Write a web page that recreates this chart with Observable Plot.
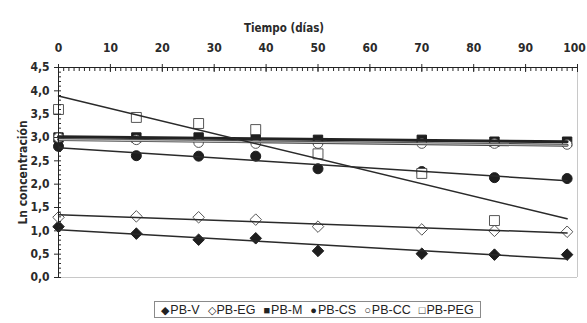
<!DOCTYPE html>
<html><head><meta charset="utf-8">
<script src="https://cdn.jsdelivr.net/npm/d3@7"></script>
<script src="https://cdn.jsdelivr.net/npm/@observablehq/plot@0.6"></script>
<style>
body{margin:0;background:#fff;width:587px;height:323px;overflow:hidden;position:relative}
#legend{position:absolute;left:154px;top:301px;width:327px;height:17px;border:1px solid #8a8a8a;box-sizing:border-box;
font-family:"Liberation Sans",Arial,sans-serif;font-size:12.5px;color:#222;display:flex;align-items:center;justify-content:center;gap:8px;white-space:nowrap}
#legend span.s{font-size:11px;margin-right:1px}
</style>
</head><body><div id="chart"></div><div id="legend"></div>
<script>
const tiempo = [0, 15, 27, 38, 50, 70, 84, 98];
const pbV   = [1.09, 0.94, 0.81, 0.84, 0.57, 0.51, 0.49, 0.49];
const pbEG  = [1.29, 1.31, 1.29, 1.24, 1.09, 1.03, 1.00, 0.98];
const pbM   = [3.00, 3.00, 3.00, 2.98, 2.95, 2.95, 2.91, 2.91];
const pbCS  = [2.81, 2.61, 2.60, 2.60, 2.33, 2.27, 2.14, 2.12];
const pbCC  = [3.00, 2.95, 2.89, 2.87, 2.87, 2.87, 2.87, 2.85];
const pbPEG = [3.60, 3.43, 3.30, 3.17, 2.65, 2.23, 1.22, null];
const xTicks = [0, 10, 20, 30, 40, 50, 60, 70, 80, 90, 100];
const yTicks = [0, 0.5, 1, 1.5, 2, 2.5, 3, 3.5, 4, 4.5];

const series = [
  {name: "PB-V",   values: pbV,   symbol: "diamond2", r: 5.2, fill: "#1e1e1e", stroke: "#1e1e1e", glyph: "◆", lw: 1.5, lc: "#2a2a2a"},
  {name: "PB-EG",  values: pbEG,  symbol: "diamond2", r: 5.2, fill: "white",   stroke: "#555",    glyph: "◇", lw: 1.5, lc: "#2a2a2a"},
  {name: "PB-M",   values: pbM,   symbol: "square",   r: 5.3, fill: "#1e1e1e", stroke: "#1e1e1e", glyph: "■", lw: 3,   lc: "#222"},
  {name: "PB-CS",  values: pbCS,  symbol: "circle",   r: 5,   fill: "#1e1e1e", stroke: "#1e1e1e", glyph: "●", lw: 1.5, lc: "#2a2a2a"},
  {name: "PB-CC",  values: pbCC,  symbol: "circle",   r: 4.8, fill: "white",   stroke: "#555",    glyph: "○", lw: 1.5, lc: "#555"},
  {name: "PB-PEG", values: pbPEG, symbol: "square",   r: 5.6, fill: "white",   stroke: "#555",    glyph: "□", lw: 1.5, lc: "#2a2a2a"}
];

const [tMin, tMax] = d3.extent(tiempo);
function trend(s) {
  const pts = tiempo.map((t, i) => ({t, v: s.values[i]})).filter(d => d.v != null);
  const mx = d3.mean(pts, d => d.t), my = d3.mean(pts, d => d.v);
  const b = d3.sum(pts, d => (d.t - mx) * (d.v - my)) / d3.sum(pts, d => (d.t - mx) ** 2);
  const a = my - b * mx;
  return [tMin, tMax].map(t => ({t, v: a + b * t}));
}

const fmt = d => d.toFixed(1).replace(".", ",");
const marks = [];
marks.push(Plot.ruleX([100], {stroke: "#c8c8c8"}));
marks.push(Plot.ruleY([0], {stroke: "#c8c8c8"}));
for (const s of series) {
  const pts = tiempo.map((t, i) => ({t, v: s.values[i]})).filter(d => d.v != null);
  marks.push(Plot.dot(pts, {x: "t", y: "v", symbol: s.symbol, r: s.r, fill: s.fill, stroke: s.stroke, strokeWidth: 1}));
}
for (const s of series) {
  if (s.name === "PB-CC") {
    marks.push(Plot.line(trend(s), {x: "t", y: "v", stroke: "#444", strokeWidth: 3}));
    marks.push(Plot.line(trend(s), {x: "t", y: "v", stroke: "#bdbdbd", strokeWidth: 1.2}));
  } else {
    marks.push(Plot.line(trend(s), {x: "t", y: "v", stroke: s.lc, strokeWidth: s.lw}));
  }
}
const xMain = xTicks.slice(0, -1), xLast = xTicks.slice(-1);
marks.push(
  Plot.axisX({anchor: "top", ticks: xTicks, tickSize: 4, text: null, label: null}),
  Plot.axisX({anchor: "top", ticks: xMain, tickSize: 0, tickPadding: 16, label: null, tickFormat: d => d, fontSize: 12}),
  Plot.axisX({anchor: "top", ticks: xLast, tickSize: 0, tickPadding: 16, label: null, tickFormat: d => d, fontSize: 12, dx: -3}),
  Plot.axisX({anchor: "top", ticks: d3.range(0, 101, 1), tickSize: -3, text: null, label: null}),
  Plot.axisX({anchor: "top", ticks: xTicks, tickSize: -4, text: null, label: null}),
  Plot.axisY({anchor: "left", ticks: yTicks, tickSize: 4, tickPadding: 5, tickFormat: fmt, fontSize: 12,
    label: "Ln concentración", labelAnchor: "center", labelOffset: 40, labelArrow: "none"}),
  Plot.axisY({anchor: "left", ticks: d3.range(0, 46, 1).map(d => d / 10), tickSize: -3, text: null, label: null}),
  Plot.ruleX([0], {stroke: "#222"}),
  Plot.ruleY([4.5], {stroke: "#222"}),
  Plot.text(["Tiempo (días)"], {frameAnchor: "top", dx: -34, dy: -44, fontWeight: "bold", fontSize: 11.5})
);

const chart = Plot.plot({
  width: 587, height: 298,
  marginLeft: 58, marginRight: 10, marginTop: 67, marginBottom: 21,
  style: {fontFamily: "'DejaVu Sans Condensed', 'DejaVu Sans', sans-serif", fontSize: "11.5px", fontWeight: "bold", color: "#2a2a2a", background: "white"},
  x: {domain: [0, 100]},
  y: {domain: [0, 4.5]},
  marks
});
document.getElementById("chart").appendChild(chart);

const leg = document.getElementById("legend");
for (const s of series) {
  const el = document.createElement("span");
  el.innerHTML = `<span class="s">${s.glyph}</span>${s.name}`;
  leg.appendChild(el);
}
</script>
</body></html>
